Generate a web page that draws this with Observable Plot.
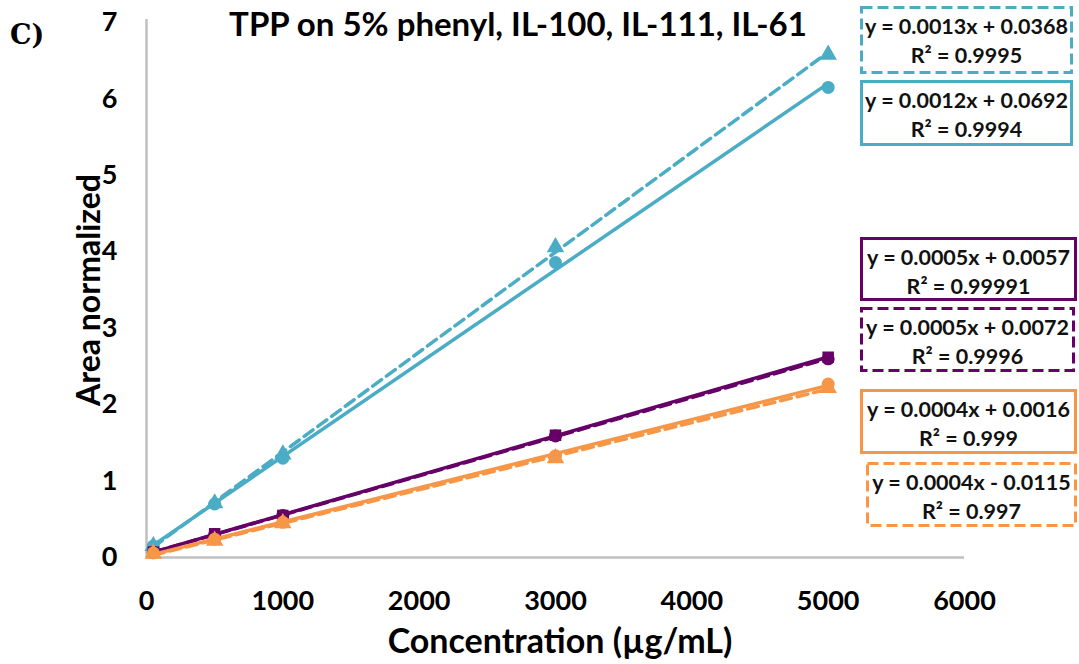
<!DOCTYPE html>
<html>
<head>
<meta charset="utf-8">
<script src="https://cdn.jsdelivr.net/npm/d3@7"></script>
<script src="https://cdn.jsdelivr.net/npm/@observablehq/plot@0.6"></script>
<style>
  html, body { margin: 0; padding: 0; background: #fff; }
  #wrap { position: relative; width: 1079px; height: 664px; overflow: hidden; font-family: Lato, "Open Sans", sans-serif; }
  .lbl { position: absolute; font-weight: bold; color: #000; white-space: nowrap; line-height: 1; }
  .eq { position: absolute; box-sizing: border-box; background: #fff; text-align: center; font-weight: bold; font-size: 21.5px; line-height: 29px; color: #111; padding-top: 6px; white-space: nowrap; }
  .eq svg { position: absolute; left: 0; top: 0; overflow: visible; }
  .eq span { position: relative; }
</style>
</head>
<body>
<div id="wrap"></div>
<script>
// ---- data ----
const concentrations = [50, 500, 1000, 3000, 5000];
const cyanDashed   = [0.15, 0.71, 1.35, 4.06, 6.58];
const cyanSolid    = [0.15, 0.70, 1.30, 3.86, 6.15];
const purpleSolid  = [0.07, 0.31, 0.55, 1.60, 2.62];
const purpleDashed = [0.07, 0.30, 0.55, 1.59, 2.60];
const orangeSolid  = [0.06, 0.24, 0.46, 1.33, 2.27];
const orangeDashed = [0.05, 0.22, 0.45, 1.30, 2.22];
const xTicks = [0, 1000, 2000, 3000, 4000, 5000, 6000];
const yTicks = [0, 1, 2, 3, 4, 5, 6, 7];
const equations = [
  ["y = 0.0013x + 0.0368", "R\u00b2 = 0.9995"],
  ["y = 0.0012x + 0.0692", "R\u00b2 = 0.9994"],
  ["y = 0.0005x + 0.0057", "R\u00b2 = 0.99991"],
  ["y = 0.0005x + 0.0072", "R\u00b2 = 0.9996"],
  ["y = 0.0004x + 0.0016", "R\u00b2 = 0.999"],
  ["y = 0.0004x - 0.0115", "R\u00b2 = 0.997"]
];

const CYAN = "#4bacc6", PURPLE = "#660066", ORANGE = "#f79646";
const seriesDefs = [
  {name: "cyanDashed", vals: cyanDashed, color: CYAN, dash: "11,6", symbol: "triangle"},
  {name: "cyanSolid", vals: cyanSolid, color: CYAN, dash: null, symbol: "circle"},
  {name: "purpleDashed", vals: purpleDashed, color: PURPLE, dash: "11,6", symbol: "circle"},
  {name: "purpleSolid", vals: purpleSolid, color: PURPLE, dash: null, symbol: "square"},
  {name: "orangeDashed", vals: orangeDashed, color: ORANGE, dash: "11,6", symbol: "triangle"},
  {name: "orangeSolid", vals: orangeSolid, color: ORANGE, dash: null, symbol: "circle"}
];

const marks = [
  Plot.ruleY([0], {stroke: "#c0c0c0", strokeWidth: 2.5}),
  Plot.ruleX([0], {stroke: "#c0c0c0", strokeWidth: 2.5, y1: 0, y2: 7.04}),
  Plot.axisX(xTicks, {tickSize: 0, tickPadding: 33, label: null, tickFormat: d3.format("d")}),
  Plot.axisY(yTicks, {tickSize: 0, tickPadding: 29, label: null, tickFormat: d3.format("d")})
];
for (const s of seriesDefs) {
  const rows = concentrations.map((c, i) => ({x: c, y: s.vals[i]}));
  marks.push(Plot.linearRegressionY(rows, {x: "x", y: "y", stroke: s.color, strokeWidth: 3.5, ci: 0, strokeDasharray: s.dash || undefined}));
  marks.push(Plot.dot(rows, {x: "x", y: "y", fill: s.color, symbol: s.symbol, r: 6.5}));
}

const chart = Plot.plot({
  width: 1079,
  height: 664,
  marginLeft: 146,
  marginRight: 115,
  marginTop: 22,
  marginBottom: 107,
  x: {domain: [0, 6000]},
  y: {domain: [0, 7]},
  style: {fontFamily: "Lato, 'Open Sans', sans-serif", fontSize: "27px", fontWeight: "bold", color: "#000", background: "#fff", overflow: "visible"},
  marks
});
const wrap = document.getElementById("wrap");
wrap.appendChild(chart);

function addLabel(text, css) {
  const d = document.createElement("div");
  d.className = "lbl";
  d.textContent = text;
  Object.assign(d.style, css);
  wrap.appendChild(d);
  return d;
}
addLabel("C)", {left: "10px", top: "21px", fontFamily: "'DejaVu Serif', 'Liberation Serif', serif", fontSize: "27px"});
addLabel("TPP on 5% phenyl, IL-100, IL-111, IL-61", {left: "518px", top: "7px", fontSize: "33px", transform: "translateX(-50%)"});
addLabel("Concentration (\u00b5g/mL)", {left: "560px", top: "623px", fontSize: "34px", transform: "translateX(-50%)"});
addLabel("Area normalized", {left: "88px", top: "290px", fontSize: "32px", transform: "translate(-50%,-50%) rotate(-90deg)"});

const boxes = [
  {left: 860, top: 6, w: 213, h: 68, color: CYAN, dashed: true},
  {left: 860, top: 80, w: 213, h: 66, color: CYAN, dashed: false},
  {left: 860, top: 237, w: 217, h: 64, color: PURPLE, dashed: false},
  {left: 860, top: 307, w: 215, h: 65, color: PURPLE, dashed: true},
  {left: 860, top: 389, w: 217, h: 65, color: ORANGE, dashed: false},
  {left: 866, top: 462, w: 211, h: 65, color: ORANGE, dashed: true}
];
boxes.forEach((b, i) => {
  const d = document.createElement("div");
  d.className = "eq";
  Object.assign(d.style, {left: b.left + "px", top: b.top + "px", width: b.w + "px", height: b.h + "px"});
  const svg = d3.create("svg").attr("width", b.w).attr("height", b.h);
  svg.append("rect")
    .attr("x", 1.5).attr("y", 1.5).attr("width", b.w - 3).attr("height", b.h - 3)
    .attr("fill", "none").attr("stroke", b.color).attr("stroke-width", 3)
    .attr("stroke-dasharray", b.dashed ? "11,5" : null);
  d.appendChild(svg.node());
  const sp = document.createElement("span");
  sp.innerHTML = equations[i][0] + "<br>" + equations[i][1];
  d.appendChild(sp);
  wrap.appendChild(d);
});
</script>
</body>
</html>
